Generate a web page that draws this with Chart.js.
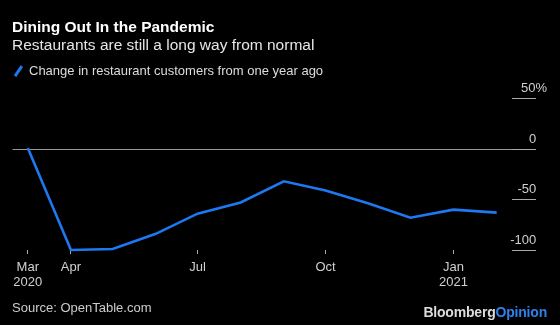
<!DOCTYPE html>
<html>
<head>
<meta charset="utf-8">
<script src="https://cdn.jsdelivr.net/npm/chart.js@4.4.1/dist/chart.umd.min.js"></script>
<style>
    html, body { margin: 0; padding: 0; background: #000; }
    .wrap { position: relative; width: 560px; height: 325px; background: #000; font-family: "Liberation Sans", Arial, sans-serif; overflow: hidden; }
    .wrap canvas { position: absolute; left: 0; top: 0; }
    .txt { position: absolute; white-space: nowrap; }
    .title { left: 12px; top: 17px; font-size: 15.5px; line-height: 20px; font-weight: bold; color: #fff; }
    .subtitle { left: 12px; top: 35px; font-size: 15.5px; line-height: 20px; color: #e6e6e6; }
    .legend { left: 29px; top: 63px; font-size: 13px; line-height: 16px; color: #ddd; }
    .swatch { position: absolute; left: 17px; top: 65px; width: 2.5px; height: 12px; background: #1e78f0; transform: rotate(35deg); }
    .source { left: 12px; top: 300px; font-size: 13px; line-height: 16px; color: #ccc; }
    .logo { right: 13px; top: 304px; font-size: 14px; line-height: 16px; font-weight: bold; color: #ddd; letter-spacing: -0.2px; }
    .logo span { color: #2f80ed; }
</style>
</head>
<body>
<div class="wrap">
    <canvas id="chart" width="560" height="325"></canvas>
    <div class="txt title">Dining Out In the Pandemic</div>
    <div class="txt subtitle">Restaurants are still a long way from normal</div>
    <div class="swatch"></div>
    <div class="txt legend">Change in restaurant customers from one year ago</div>
    <div class="txt source">Source: OpenTable.com</div>
    <div class="txt logo">Bloomberg<span>Opinion</span></div>
</div>
<script>
// monthly readings, first of each month
const months = ['2020-03-01', '2020-04-01', '2020-05-01', '2020-06-01', '2020-07-01', '2020-08-01',
    '2020-09-01', '2020-10-01', '2020-11-01', '2020-12-01', '2021-01-01', '2021-02-01'];
const customerChange = [1, -100, -99, -84, -64, -53, -32, -41, -54, -68, -60, -63];

const tickDates = ['2020-03-01', '2020-04-01', '2020-07-01', '2020-10-01', '2021-01-01'];
const tickLabels = [['Mar', '2020'], ['Apr'], ['Jul'], ['Oct'], ['Jan', '2021']];
const yTicks = [50, 0, -50, -100];

const DAY = 86400000;
const start = Date.parse(months[0]);
const dayOf = s => Math.round((Date.parse(s) - start) / DAY);

const points = months.map((m, i) => ({ x: dayOf(m), y: customerChange[i] }));
const tickDays = tickDates.map(dayOf);
const lastDay = dayOf(months[months.length - 1]);

const ctx = document.getElementById('chart').getContext('2d');
new Chart(ctx, {
    type: 'line',
    data: {
        datasets: [{
            label: 'Change in restaurant customers from one year ago',
            data: points,
            borderColor: '#1e78f0',
            borderWidth: 2.6,
            pointRadius: 0,
            tension: 0,
            fill: false,
            clip: false
        }]
    },
    options: {
        responsive: false,
        animation: false,
        layout: { padding: { top: 98.5, left: 12.5, right: 13, bottom: 35 } },
        plugins: { legend: { display: false }, tooltip: { enabled: false } },
        scales: {
            x: {
                type: 'linear',
                min: -11,
                max: lastDay + 11,
                afterBuildTicks: axis => { axis.ticks = tickDays.map(v => ({ value: v })); },
                afterFit: axis => { axis.height = 40; },
                border: { display: false },
                grid: {
                    drawOnChartArea: false,
                    tickLength: 4,
                    tickColor: '#aaa',
                    tickWidth: 1
                },
                ticks: {
                    autoSkip: false,
                    maxRotation: 0,
                    padding: 6,
                    color: '#d0d0d0',
                    font: { family: '"Liberation Sans", Arial, sans-serif', size: 13, lineHeight: 1.15 },
                    callback: v => {
                        const i = tickDays.indexOf(v);
                        return i >= 0 ? tickLabels[i] : '';
                    }
                }
            },
            y: {
                position: 'right',
                min: -100,
                max: 50,
                afterBuildTicks: axis => { axis.ticks = yTicks.map(v => ({ value: v })); },
                afterFit: axis => { axis.width = 35; },
                border: { display: false },
                grid: {
                    color: c => (c.tick && c.tick.value === 0) ? '#999' : 'transparent',
                    lineWidth: 1,
                    tickLength: 24,
                    tickColor: '#aaa',
                    tickWidth: 1
                },
                ticks: {
                    mirror: true,
                    crossAlign: 'near',
                    padding: 35,
                    labelOffset: -10,
                    color: '#d0d0d0',
                    font: { family: '"Liberation Sans", Arial, sans-serif', size: 13 },
                    // the % sign hangs past the right edge of the numbers
                    callback: v => v === 50 ? '50%' : String(v) + '   '
                }
            }
        }
    }
});
</script>
</body>
</html>
